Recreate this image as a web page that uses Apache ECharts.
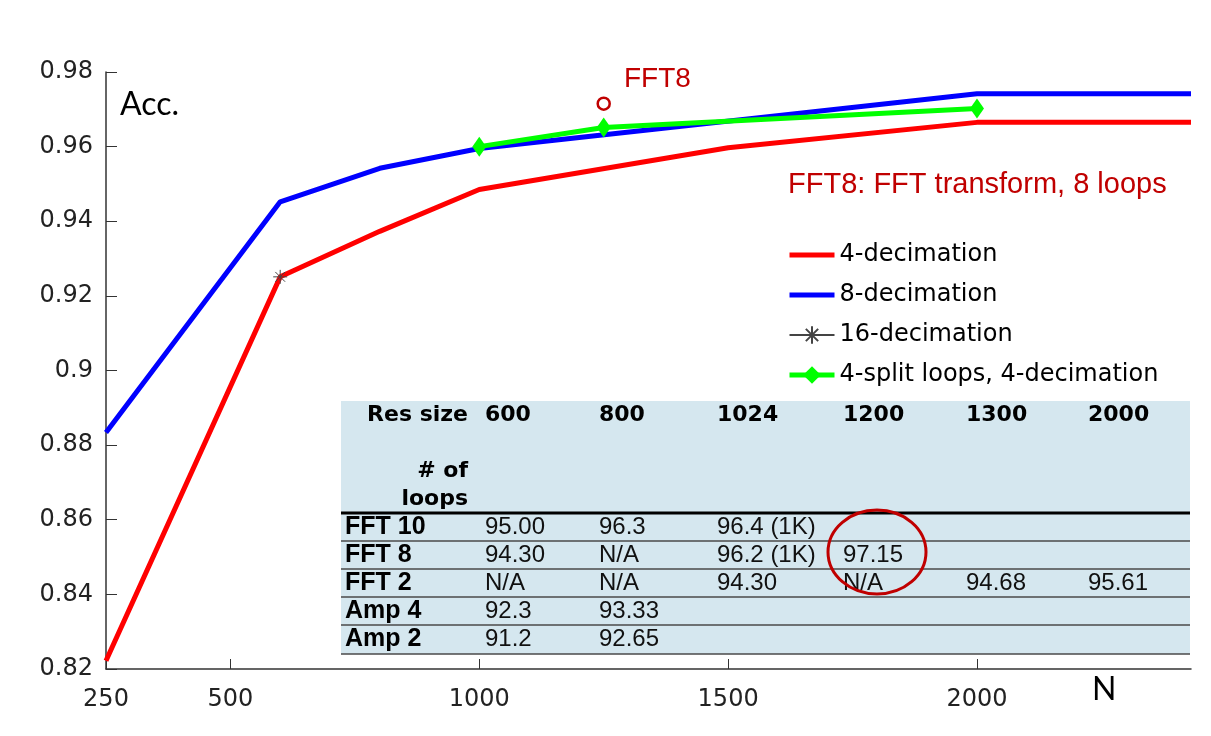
<!DOCTYPE html>
<html>
<head>
<meta charset="utf-8">
<script src="https://cdn.jsdelivr.net/npm/echarts@6/dist/echarts.min.js"></script>
<style>
  html, body { margin: 0; padding: 0; background: #fff; }
  #main { width: 1211px; height: 736px; }
</style>
</head>
<body>
<div id="main"></div>
<script>
// values
const xTicks = [250, 500, 1000, 1500, 2000];

const n4 = [250, 600, 800, 1000, 1500, 2000, 2430];
const acc4 = [0.8222, 0.9251, 0.9373, 0.9485, 0.9597, 0.9665, 0.9665];

const n8 = [250, 600, 800, 1000, 2000, 2430];
const acc8 = [0.8834, 0.9452, 0.9542, 0.9595, 0.9742, 0.9742];

const n16 = [600];
const acc16 = [0.9251];

const nSplit = [1000, 1250, 2000];
const accSplit = [0.9600, 0.9651, 0.9702];

const nFft8 = [1250];
const accFft8 = [0.9715];

// inset table
const tableHead = ['Res size', '600', '800', '1024', '1200', '1300', '2000'];
const rowLabels = ['FFT 10', 'FFT 8', 'FFT 2', 'Amp 4', 'Amp 2'];
const rowValues = [
  ['95.00', '96.3', '96.4 (1K)', '', '', ''],
  ['94.30', 'N/A', '96.2 (1K)', '97.15', '', ''],
  ['N/A', 'N/A', '94.30', 'N/A', '94.68', '95.61'],
  ['92.3', '93.33', '', '', '', ''],
  ['91.2', '92.65', '', '', '', '']
];

function pairs(xs, ys) {
  return xs.map((x, i) => [x, ys[i]]);
}

const chart = echarts.init(document.getElementById('main'));

const darkRed = '#c00000';
const colX = [485, 599, 717, 843, 966, 1088];
const rowY = [527, 555, 583, 611, 639];
const lineY = [541, 569, 597, 625, 654];

const graphics = [
  { type: 'rect', z: 10, shape: { x: 341, y: 401, width: 849, height: 253 }, style: { fill: '#d5e7ef' } },
  { type: 'line', z: 11, shape: { x1: 341, y1: 513, x2: 1190, y2: 513 }, style: { stroke: '#000', lineWidth: 3 } }
];
lineY.forEach(y => {
  graphics.push({ type: 'line', z: 11, shape: { x1: 341, y1: y, x2: 1190, y2: y }, style: { stroke: '#4a4a4a', lineWidth: 1.5 } });
});
tableHead.forEach((t, i) => {
  graphics.push({
    type: 'text', z: 12,
    style: {
      text: t, x: i === 0 ? 468 : colX[i - 1], y: 415,
      textAlign: i === 0 ? 'right' : 'left', textVerticalAlign: 'middle',
      font: 'bold 22px "DejaVu Sans"', fill: '#000'
    }
  });
});
['# of', 'loops'].forEach((t, i) => {
  graphics.push({
    type: 'text', z: 12,
    style: { text: t, x: 468, y: i === 0 ? 471 : 499, textAlign: 'right', textVerticalAlign: 'middle', font: 'bold 22px "DejaVu Sans"', fill: '#000' }
  });
});
rowLabels.forEach((t, r) => {
  graphics.push({
    type: 'text', z: 12,
    style: { text: t, x: 345, y: rowY[r], textAlign: 'left', textVerticalAlign: 'middle', font: 'bold 25px "Liberation Sans"', fill: '#000' }
  });
  rowValues[r].forEach((v, c) => {
    if (!v) return;
    graphics.push({
      type: 'text', z: 12,
      style: { text: v, x: colX[c], y: rowY[r], textAlign: 'left', textVerticalAlign: 'middle', font: '24px "Liberation Sans"', fill: '#111' }
    });
  });
});
graphics.push(
  { type: 'ellipse', z: 13, shape: { cx: 877, cy: 552, rx: 49, ry: 42 }, style: { fill: 'none', stroke: darkRed, lineWidth: 3 } },
  { type: 'text', z: 5, style: { text: 'Acc.', x: 120, y: 105, textVerticalAlign: 'middle', font: '32px Lato', fill: '#000' } },
  { type: 'text', z: 5, style: { text: 'N', x: 1092, y: 690, textVerticalAlign: 'middle', font: '32px Lato', fill: '#000' } },
  { type: 'text', z: 5, style: { text: 'FFT8: FFT transform, 8 loops', x: 788, y: 185, textVerticalAlign: 'middle', font: '29px "Liberation Sans"', fill: darkRed } }
);

const plainLine = { itemStyle: { opacity: 0 }, lineStyle: { width: 5 } };

const option = {
  animation: false,
  grid: { left: 106, right: 20, top: 72, bottom: 67 },
  legend: {
    data: [
      Object.assign({ name: '4-decimation' }, plainLine),
      Object.assign({ name: '8-decimation' }, plainLine),
      { name: '16-decimation' },
      { name: '4-split loops, 4-decimation', lineStyle: { width: 5 } }
    ],
    orient: 'vertical',
    left: 787,
    top: 243,
    padding: 0,
    itemWidth: 45,
    itemHeight: 22,
    itemGap: 16,
    textStyle: { fontSize: 24, fontFamily: '"Comic Sans MS", "DejaVu Sans"', color: '#000' }
  },
  xAxis: {
    type: 'value',
    min: 250,
    max: 2430,
    axisLine: { lineStyle: { color: '#333', width: 1.5 } },
    axisTick: { inside: true, length: 10, customValues: xTicks, lineStyle: { color: '#333' } },
    axisLabel: {
      customValues: xTicks, fontSize: 24, fontFamily: '"DejaVu Sans"', color: '#222', margin: 19,
      formatter: v => String(v)
    },
    splitLine: { show: false }
  },
  yAxis: {
    type: 'value',
    min: 0.82,
    max: 0.98,
    interval: 0.02,
    axisLine: { show: true, lineStyle: { color: '#333', width: 1.5 } },
    axisTick: { show: true, inside: true, length: 11, lineStyle: { color: '#333' } },
    axisLabel: {
      fontSize: 24, fontFamily: '"DejaVu Sans"', color: '#222', margin: 13,
      formatter: v => String(+v.toFixed(2))
    },
    splitLine: { show: false }
  },
  series: [
    {
      name: '4-decimation', type: 'line', data: pairs(n4, acc4),
      symbol: 'none', color: '#ff0000', lineStyle: { width: 5, color: '#ff0000' }, z: 2
    },
    {
      name: '8-decimation', type: 'line', data: pairs(n8, acc8),
      symbol: 'none', color: '#0000ff', lineStyle: { width: 5, color: '#0000ff' }, z: 3
    },
    {
      name: '16-decimation', type: 'line', data: pairs(n16, acc16),
      symbol: 'path://M0,-10L0,10M-10,0L10,0M-7,-7L7,7M-7,7L7,-7',
      symbolSize: 14, color: '#444',
      itemStyle: { color: 'rgba(0,0,0,0)', borderColor: '#444', borderWidth: 1 },
      lineStyle: { width: 1, color: '#444' }, z: 4
    },
    {
      name: '4-split loops, 4-decimation', type: 'line', data: pairs(nSplit, accSplit),
      symbol: 'diamond', symbolSize: [14, 20], color: '#00ff00',
      itemStyle: { color: '#00ff00' }, lineStyle: { width: 5, color: '#00ff00' }, z: 5
    },
    {
      name: 'FFT8', type: 'scatter', data: pairs(nFft8, accFft8),
      symbol: 'circle', symbolSize: 12,
      itemStyle: { color: '#fff', borderColor: darkRed, borderWidth: 2.5, opacity: 1 },
      label: {
        show: true, formatter: 'FFT8', position: 'right', offset: [8, -24],
        fontSize: 28, fontFamily: '"Liberation Sans"', color: darkRed
      },
      z: 6
    }
  ],
  graphic: graphics
};

chart.setOption(option);
</script>
</body>
</html>
